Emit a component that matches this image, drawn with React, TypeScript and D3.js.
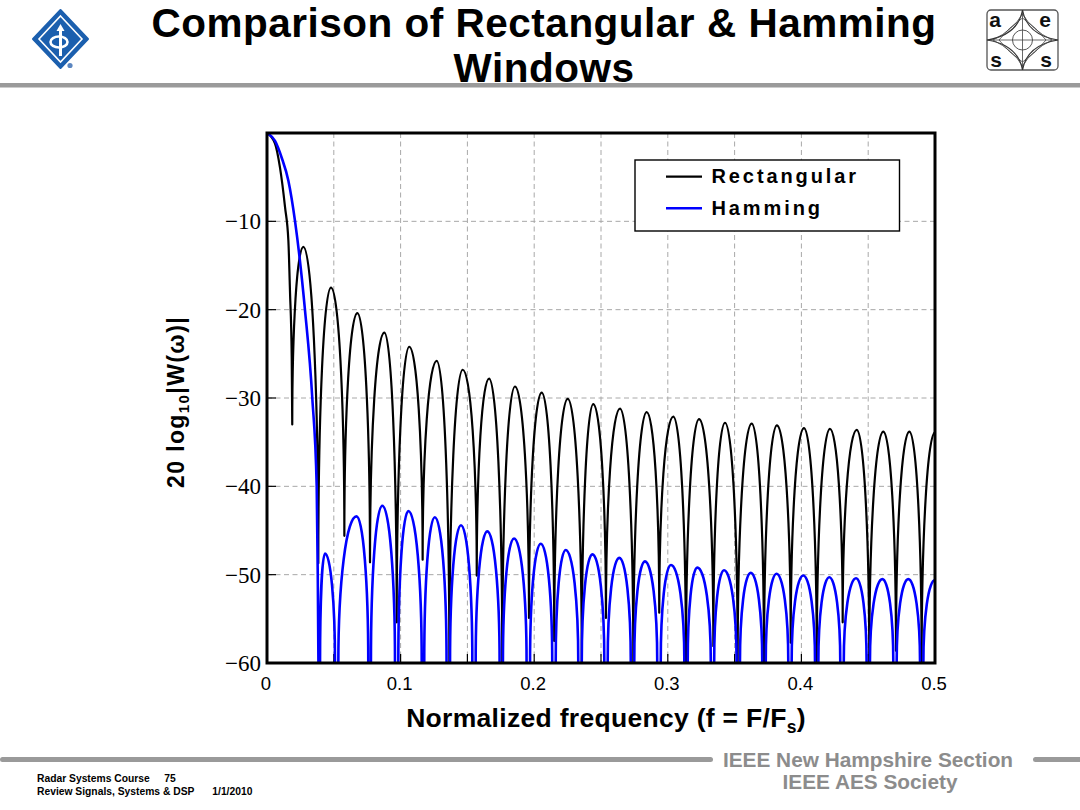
import React from 'react';
import * as d3 from 'd3';

const W = 1080;
const H = 810;

// ---- axis values ----
const xTickValues = [0, 0.1, 0.2, 0.3, 0.4, 0.5];
const xGridValues = [0.05, 0.1, 0.15, 0.2, 0.25, 0.3, 0.35, 0.4, 0.45];
const yTickValues = [-10, -20, -30, -40, -50, -60];
const yGridValues = [-10, -20, -30, -40, -50];

const seriesNames = ['Rectangular', 'Hamming'];
const seriesColors = ['#000000', '#0000ff'];

// ---- Rectangular window: main lobe [f, dB] ----
const rectMainLobe: [number, number][] = [
  [0, 0], [0.006, -1.2], [0.0097, -3.9], [0.0135, -8.4], [0.016, -12.2], [0.0172, -17.9], [0.0185, -25.4],
];
// nulls between side lobes (f, dB as seen; -60 = hits the floor)
const rectNullF = [0.0189, 0.0384, 0.0579, 0.0771, 0.0971, 0.1165, 0.1365, 0.157, 0.1761, 0.1961, 0.215, 0.2356, 0.2537, 0.2742, 0.2936, 0.3136, 0.3341, 0.3523, 0.372, 0.392, 0.4115, 0.4309, 0.4508, 0.4708, 0.49];
const rectNullDb = [-33.0, -48.7, -45.6, -48.6, -55.4, -48.3, -60, -50.1, -60, -54.9, -57.5, -60, -54.9, -60, -54.3, -60, -58.1, -60, -60, -57.7, -60, -55.4, -60, -58.6, -60];
// side lobe peaks
const rectPeakF = [0.0272, 0.0479, 0.0676, 0.0878, 0.1065, 0.127, 0.1465, 0.1662, 0.1856, 0.2056, 0.2251, 0.2442, 0.2642, 0.2842, 0.3041, 0.3234, 0.3428, 0.3628, 0.3817, 0.4019, 0.4214, 0.4414, 0.4613, 0.4808, 0.5];
const rectPeakDb = [-12.9, -17.5, -20.4, -22.6, -24.2, -25.8, -26.8, -27.8, -28.7, -29.4, -30.1, -30.7, -31.2, -31.6, -32.1, -32.4, -32.8, -32.9, -33.1, -33.4, -33.5, -33.6, -33.8, -33.8, -33.9];

// ---- Hamming window: main lobe [f, dB] ----
const hamMainLobe: [number, number][] = [
  [0, 0], [0.006, -0.9], [0.011, -2.8], [0.016, -5.4], [0.021, -10], [0.0284, -20], [0.0339, -30], [0.0372, -40], [0.038, -50], [0.0385, -60],
];
// side lobes: where each lobe leaves the -60 floor, its peak, where it returns
const hamLobeStartF = [0.0397, 0.0534, 0.0778, 0.0983, 0.1177, 0.137, 0.1562, 0.1766, 0.1969, 0.2161, 0.2356, 0.255, 0.2749, 0.2947, 0.3149, 0.3347, 0.354, 0.3733, 0.3927, 0.4127, 0.4317, 0.4513, 0.4713, 0.4913];
const hamPeakF = [0.0434, 0.067, 0.0863, 0.1058, 0.1256, 0.1452, 0.1649, 0.1849, 0.2049, 0.2236, 0.2436, 0.2637, 0.2829, 0.3024, 0.3221, 0.3421, 0.3621, 0.3814, 0.4014, 0.4209, 0.4409, 0.4606, 0.48, 0.5];
const hamPeakDb = [-47.6, -43.4, -42.2, -42.8, -43.5, -44.4, -45.1, -45.9, -46.5, -47.2, -47.7, -48.1, -48.5, -48.9, -49.2, -49.5, -49.8, -49.9, -50.1, -50.3, -50.4, -50.5, -50.5, -50.6];
const hamLobeEndF = [0.0509, 0.0758, 0.0958, 0.1158, 0.1344, 0.1537, 0.1741, 0.1943, 0.2135, 0.233, 0.2525, 0.2723, 0.2921, 0.3124, 0.3322, 0.3515, 0.3707, 0.3902, 0.4102, 0.4291, 0.4488, 0.4688, 0.4888, 0.5];

const SANS = "'Liberation Sans', Arial, Helvetica, sans-serif";
const SERIF = "'Liberation Serif', 'Times New Roman', serif";

export default function App() {
  const left = 267, right = 935, top = 133, bottom = 663;
  const x = d3.scaleLinear().domain([0, 0.5]).range([left, right]);
  const y = d3.scaleLinear().domain([-60, 0]).range([bottom, top]);
  const floorDb = y.domain()[0];

  const line = d3.line<[number, number]>().x(d => x(d[0])).y(d => y(d[1])).curve(d3.curveMonotoneX);

  // Rectangular path: main lobe then elliptical arcs null -> peak -> null
  let dRect = line([...rectMainLobe, [rectNullF[0], rectNullDb[0]]]) || '';
  for (let i = 0; i < rectPeakF.length; i++) {
    const nx = x(rectNullF[i]), ny = y(rectNullDb[i]);
    const px = x(rectPeakF[i]), py = y(rectPeakDb[i]);
    dRect += ` A ${Math.max(px - nx, 0.01)} ${Math.max(ny - py, 0.01)} 0 0 1 ${px} ${py}`;
    if (i + 1 < rectNullF.length) {
      const nx2 = x(rectNullF[i + 1]), ny2 = y(rectNullDb[i + 1]);
      dRect += ` A ${Math.max(nx2 - px, 0.01)} ${Math.max(ny2 - py, 0.01)} 0 0 1 ${nx2} ${ny2}`;
    }
  }

  let dHam = line(hamMainLobe) || '';
  for (let i = 0; i < hamPeakF.length; i++) {
    const sx = x(hamLobeStartF[i]), sy = y(floorDb);
    const px = x(hamPeakF[i]), py = y(hamPeakDb[i]);
    const ex = x(hamLobeEndF[i]);
    dHam += ` M ${sx} ${sy} A ${Math.max(px - sx, 0.01)} ${sy - py} 0 0 1 ${px} ${py}`;
    if (ex > px) dHam += ` A ${ex - px} ${sy - py} 0 0 1 ${ex} ${sy}`;
  }

  const grey = '#9a9a9a';

  return (
    <svg width={W} height={H} style={{ position: 'absolute', left: 0, top: 0, display: 'block', background: '#fff' }}>
      <rect x={0} y={0} width={W} height={H} fill="#fff" />

      {/* IEEE logo */}
      <g>
        <path d="M60.5 10 L88 39 L60.5 68 L33 39 Z" fill="#1b5fae" stroke="#1b5fae" strokeWidth={2} strokeLinejoin="round" />
        <path d="M60.5 16 L82 39 L60.5 62 L39 39 Z" fill="none" stroke="#fff" strokeWidth={1.6} />
        <ellipse cx={59} cy={42} rx={8.5} ry={5.5} fill="none" stroke="#fff" strokeWidth={2.6} />
        <line x1={60.5} y1={30} x2={60.5} y2={56} stroke="#fff" strokeWidth={3} />
        <path d="M56.5 31 L60.5 24 L64.5 31 Z" fill="#fff" />
        <circle cx={70} cy={65.5} r={2.6} fill="#5b86c0" />
      </g>

      {/* AES logo */}
      <g>
        <rect x={987} y={10} width={71} height={60} rx={4} fill="#fff" stroke="#555" strokeWidth={1.3} />
        <line x1={987} y1={40} x2={1058} y2={40} stroke="#444" strokeWidth={0.8} />
        <line x1={1022.5} y1={10} x2={1022.5} y2={70} stroke="#444" strokeWidth={0.8} />
        <path d="M1022.5 10 Q1027 35 1058 40 Q1027 45 1022.5 70 Q1018 45 987 40 Q1018 35 1022.5 10 Z" fill="none" stroke="#333" strokeWidth={1.2} />
        <path d="M1022.5 14 Q1032 30 1052 40 Q1032 50 1022.5 66 Q1013 50 993 40 Q1013 30 1022.5 14 Z" fill="none" stroke="#444" strokeWidth={0.8} />
        <path d="M1022.5 18 Q1036 27 1046 40 Q1036 53 1022.5 62 Q1009 53 999 40 Q1009 27 1022.5 18 Z" fill="none" stroke="#444" strokeWidth={0.8} />
        <circle cx={1022.5} cy={40} r={10} fill="none" stroke="#444" strokeWidth={0.9} />
        <text x={995} y={27} fontFamily={SANS} fontWeight="bold" fontSize={21} textAnchor="middle" fill="#111">a</text>
        <text x={1045} y={27} fontFamily={SANS} fontWeight="bold" fontSize={21} textAnchor="middle" fill="#111">e</text>
        <text x={996} y={67} fontFamily={SANS} fontWeight="bold" fontSize={21} textAnchor="middle" fill="#111">s</text>
        <text x={1046} y={67} fontFamily={SANS} fontWeight="bold" fontSize={21} textAnchor="middle" fill="#111">s</text>
      </g>

      {/* Title */}
      <text x={544} y={37} fontFamily={SANS} fontWeight="bold" fontSize={40.5} letterSpacing={0.5} textAnchor="middle" fill="#000">Comparison of Rectangular &amp; Hamming</text>
      <text x={544} y={82} fontFamily={SANS} fontWeight="bold" fontSize={40.5} letterSpacing={0.5} textAnchor="middle" fill="#000">Windows</text>
      <rect x={0} y={83} width={W} height={4.5} fill={grey} />

      {/* grid */}
      <g stroke="#a8a8a8" strokeWidth={1} strokeDasharray="5,3.5">
        {xGridValues.map(v => (
          <line key={'gx' + v} x1={x(v)} x2={x(v)} y1={top} y2={bottom} />
        ))}
        {yGridValues.map(v => (
          <line key={'gy' + v} x1={left} x2={right} y1={y(v)} y2={y(v)} />
        ))}
      </g>

      {/* ticks (inward) */}
      <g stroke="#000" strokeWidth={1.2}>
        {xGridValues.map(v => (
          <line key={'tx' + v} x1={x(v)} x2={x(v)} y1={bottom} y2={bottom - 9} />
        ))}
        {yGridValues.map(v => (
          <line key={'ty' + v} x1={left} x2={left + 9} y1={y(v)} y2={y(v)} />
        ))}
      </g>

      <defs>
        <clipPath id="plotclip">
          <rect x={left} y={top} width={right - left} height={bottom - top} />
        </clipPath>
      </defs>

      <g clipPath="url(#plotclip)" fill="none" strokeLinejoin="round" strokeLinecap="round">
        <path d={dRect} stroke={seriesColors[0]} strokeWidth={2.2} />
        <path d={dHam} stroke={seriesColors[1]} strokeWidth={2.6} />
      </g>

      {/* frame */}
      <rect x={left} y={top} width={right - left} height={bottom - top} fill="none" stroke="#000" strokeWidth={3} />

      {/* y tick labels */}
      {yTickValues.map(v => (
        <text key={'yl' + v} x={261} y={y(v)} dy="0.35em" fontFamily={SERIF} fontSize={23} textAnchor="end" fill="#000">
          {'\u2212' + Math.abs(v)}
        </text>
      ))}
      {/* x tick labels */}
      {xTickValues.map(v => (
        <text key={'xl' + v} x={x(v) - 1} y={690} fontFamily={SANS} fontSize={18.5} textAnchor="middle" fill="#000">
          {v === 0 ? '0' : String(v)}
        </text>
      ))}

      {/* axis labels */}
      <text x={606} y={727} fontFamily={SANS} fontWeight="bold" fontSize={26.5} letterSpacing={0.3} textAnchor="middle" fill="#000">
        Normalized frequency (f = F/F<tspan fontSize={17.5} dy={6}>s</tspan><tspan dy={-6}>)</tspan>
      </text>
      <g transform="translate(184,402) rotate(-90)">
        <text x={0} y={0} fontFamily={SANS} fontWeight="bold" fontSize={23} letterSpacing={1.4} textAnchor="middle" fill="#000">
          20 log<tspan fontSize={15} dy={5}>10</tspan><tspan dy={-5}>|W(ω)|</tspan>
        </text>
      </g>

      {/* legend */}
      <g>
        <rect x={635} y={160} width={264.5} height={71} fill="#fff" stroke="#000" strokeWidth={1.4} />
        <line x1={666} x2={702} y1={176.7} y2={176.7} stroke={seriesColors[0]} strokeWidth={2.2} />
        <line x1={666} x2={702} y1={208.3} y2={208.3} stroke={seriesColors[1]} strokeWidth={2.6} />
        <text x={711.5} y={182.5} fontFamily={SANS} fontWeight="bold" fontSize={20} letterSpacing={2.9} fill="#000">{seriesNames[0]}</text>
        <text x={711.5} y={215} fontFamily={SANS} fontWeight="bold" fontSize={20} letterSpacing={2.9} fill="#000">{seriesNames[1]}</text>
      </g>

      {/* footer */}
      <rect x={0} y={757} width={713} height={5} rx={2.5} fill={grey} />
      <rect x={1033} y={757} width={60} height={5} rx={2.5} fill={grey} />
      <text x={868} y={767} fontFamily={SANS} fontWeight="bold" fontSize={20.8} textAnchor="middle" fill="#8c8c8c">IEEE New Hampshire Section</text>
      <text x={870} y={789} fontFamily={SANS} fontWeight="bold" fontSize={20.8} textAnchor="middle" fill="#8c8c8c">IEEE AES Society</text>
      <text x={37} y={782} fontFamily={SANS} fontWeight="bold" fontSize={10.3} fill="#000">Radar Systems Course</text>
      <text x={164.3} y={782} fontFamily={SANS} fontWeight="bold" fontSize={10.3} fill="#000">75</text>
      <text x={37} y={794.5} fontFamily={SANS} fontWeight="bold" fontSize={10.3} fill="#000">Review Signals, Systems &amp; DSP</text>
      <text x={212.3} y={794.5} fontFamily={SANS} fontWeight="bold" fontSize={10.3} fill="#000">1/1/2010</text>
    </svg>
  );
}
